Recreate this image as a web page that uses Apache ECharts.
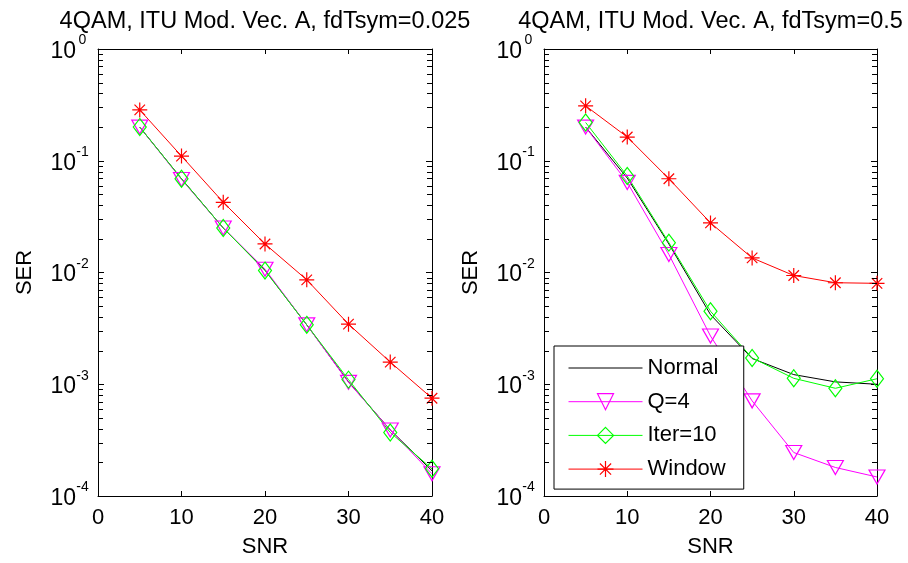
<!DOCTYPE html>
<html>
<head>
<meta charset="utf-8">
<title>SER vs SNR</title>
<script src="https://cdn.jsdelivr.net/npm/echarts@6/dist/echarts.min.js"></script>
<style>
  html, body { margin: 0; padding: 0; background: #fff; }
  #chart { width: 908px; height: 563px; }
</style>
</head>
<body>
<div id="chart"></div>
<script>
// SNR points (dB)
var snr = [5, 10, 15, 20, 25, 30, 35, 40]
var seriesNames = ['Normal', 'Q=4', 'Iter=10', 'Window']
var titles = ['4QAM, ITU Mod. Vec. A, fdTsym=0.025', '4QAM, ITU Mod. Vec. A, fdTsym=0.5']

// fdTsym = 0.025 (left)
var normalSlow = [0.20, 0.069, 0.025, 0.0105, 0.0034, 0.00105, 0.00039, 0.000168]
var q4Slow = [0.20, 0.068, 0.025, 0.0107, 0.0034, 0.00104, 0.00039, 0.000158]
var iterSlow = [0.20, 0.069, 0.025, 0.0104, 0.0034, 0.0011, 0.00037, 0.000175]
var windowSlow = [0.285, 0.11, 0.0425, 0.018, 0.0086, 0.00345, 0.00158, 0.00075]

// fdTsym = 0.5 (right)
var normalFast = [0.20, 0.070, 0.018, 0.0042, 0.0017, 0.00122, 0.00105, 0.0010]
var q4Fast = [0.20, 0.064, 0.0145, 0.0027, 0.00071, 0.000245, 0.00018, 0.000148]
var iterFast = [0.22, 0.073, 0.0185, 0.0045, 0.00172, 0.00113, 0.00092, 0.00112]
var windowFast = [0.31, 0.163, 0.069, 0.0278, 0.0135, 0.0094, 0.0081, 0.0080]

// minor ticks of the log axis (2..9 in every decade)
var decades = [0.0001, 0.001, 0.01, 0.1]
var mantissas = [2, 3, 4, 5, 6, 7, 8, 9]

var FONT = '"Liberation Sans", Arial, sans-serif'
var grids = [
  { left: 98, top: 49, width: 334, height: 450 },
  { left: 544, top: 49, width: 333, height: 450 }
]

var styles = {
  'Normal': { color: '#000000', symbol: 'circle', size: 0 },
  'Q=4': { color: '#ff00ff', symbol: 'path://M0,0 L10,0 L5,9 Z', size: [16, 14] },
  'Iter=10': { color: '#00ff00', symbol: 'diamond', size: [13, 17] },
  'Window': { color: '#ff0000', symbol: 'path://M5,0 L5,10 M0,5 L10,5 M1.5,1.5 L8.5,8.5 M8.5,1.5 L1.5,8.5', size: 15 }
}

function pairs(ys) {
  return snr.map(function (x, i) { return [x, ys[i]] })
}

function itemStyleOf(name) {
  var s = styles[name]
  if (name === 'Normal') return { color: 'rgba(0,0,0,0)', borderWidth: 0 }
  if (name === 'Window') return { color: s.color, borderColor: s.color, borderWidth: 1.2 }
  return { color: 'rgba(0,0,0,0)', borderColor: s.color, borderWidth: 1.2 }
}

function lineSeries(name, ys, g) {
  var s = styles[name]
  return {
    name: name,
    type: 'line',
    xAxisIndex: g * 2,
    yAxisIndex: g * 2,
    data: pairs(ys),
    symbol: s.symbol,
    symbolSize: s.size,
    showSymbol: name !== 'Normal',
    clip: false,
    lineStyle: { color: s.color, width: 1 },
    itemStyle: itemStyleOf(name),
    emphasis: { disabled: true }
  }
}

// short inward minor ticks on both edges of the plot box
function minorTickItem(params, api) {
  var cs = params.coordSys
  var y = Math.round(api.coord([10, api.value(0)])[1])
  return {
    type: 'group',
    children: [
      { type: 'rect', shape: { x: cs.x, y: y, width: 5, height: 1 }, style: { fill: '#000' } },
      { type: 'rect', shape: { x: cs.x + cs.width - 5, y: y, width: 5, height: 1 }, style: { fill: '#000' } }
    ]
  }
}

var minorData = []
decades.forEach(function (d) {
  mantissas.forEach(function (m) { minorData.push([m * d]) })
})

function xAxes(g) {
  var base = {
    gridIndex: g, type: 'value', min: 0, max: 40, interval: 10,
    splitLine: { show: false },
    axisLine: { onZero: false, lineStyle: { color: '#000', width: 1 } },
    axisTick: { inside: true, length: 5, lineStyle: { color: '#000' } }
  }
  var bottom = Object.assign({}, base, {
    position: 'bottom',
    name: 'SNR', nameLocation: 'middle', nameGap: 40,
    nameTextStyle: { fontFamily: FONT, fontSize: 22, color: '#000' },
    axisLabel: { fontFamily: FONT, fontSize: 22, color: '#000', margin: 11 }
  })
  var top = Object.assign({}, base, { position: 'top', axisLabel: { show: false } })
  return [bottom, top]
}

function yAxes(g) {
  var base = {
    gridIndex: g, type: 'log', logBase: 10, min: 0.0001, max: 1,
    splitLine: { show: false },
    minorTick: { show: false },
    axisLine: { onZero: false, lineStyle: { color: '#000', width: 1 } },
    axisTick: { show: true, inside: true, length: 6, lineStyle: { color: '#000' } }
  }
  var left = Object.assign({}, base, {
    position: 'left',
    name: 'SER', nameLocation: 'middle', nameGap: 62,
    nameTextStyle: { fontFamily: FONT, fontSize: 22, color: '#000' },
    axisLabel: {
      margin: 9,
      padding: [0, 0, 8, 0],
      formatter: function (v) {
        return '{b|10}{s|' + Math.round(Math.log10(v)) + '}'
      },
      rich: {
        b: { fontFamily: FONT, fontSize: 23, color: '#000', lineHeight: 23, padding: [13, 0, 0, 0] },
        s: { fontFamily: FONT, fontSize: 14, color: '#000', lineHeight: 14, verticalAlign: 'top', width: 13, align: 'left' }
      }
    }
  })
  var right = Object.assign({}, base, { position: 'right', axisLabel: { show: false } })
  return [left, right]
}

var series = [
  lineSeries('Normal', normalSlow, 0),
  lineSeries('Q=4', q4Slow, 0),
  lineSeries('Iter=10', iterSlow, 0),
  lineSeries('Window', windowSlow, 0),
  lineSeries('Normal', normalFast, 1),
  lineSeries('Q=4', q4Fast, 1),
  lineSeries('Iter=10', iterFast, 1),
  lineSeries('Window', windowFast, 1)
]
;[0, 1].forEach(function (g) {
  series.push({
    type: 'custom', name: 'minor' + g, xAxisIndex: g * 2, yAxisIndex: g * 2,
    encode: { y: 0 },
    data: minorData, renderItem: minorTickItem, silent: true, clip: false, z: 10
  })
})

var chart = echarts.init(document.getElementById('chart'))
chart.setOption({
  animation: false,
  backgroundColor: '#fff',
  title: titles.map(function (t, i) {
    return {
      text: t,
      left: grids[i].left + grids[i].width / 2,
      top: 10,
      padding: 0,
      textAlign: 'center',
      textStyle: { fontFamily: FONT, fontSize: 23.5, fontWeight: 'normal', color: '#000' }
    }
  }),
  grid: grids,
  xAxis: xAxes(0).concat(xAxes(1)),
  yAxis: yAxes(0).concat(yAxes(1)),
  legend: {
    orient: 'vertical',
    left: 554,
    top: 346,
    padding: [11, 18, 9, 14],
    itemGap: 11.7,
    itemWidth: 74,
    itemHeight: 20,
    backgroundColor: '#fff',
    borderColor: '#000',
    borderWidth: 1,
    borderRadius: 0,
    selectedMode: false,
    textStyle: { fontFamily: FONT, fontSize: 22, color: '#000', lineHeight: 22 },
    data: seriesNames.map(function (n) {
      return { name: n, itemStyle: itemStyleOf(n), lineStyle: { color: styles[n].color, width: 1 } }
    })
  },
  series: series
})
</script>
</body>
</html>
